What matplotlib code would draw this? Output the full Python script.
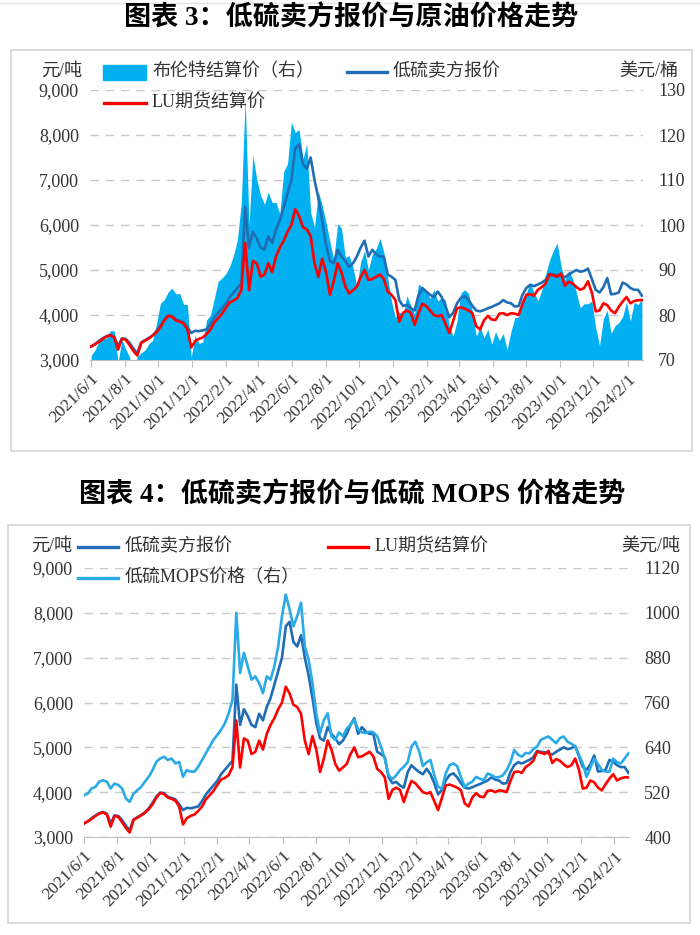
import numpy as np
import pandas as pd
import matplotlib
matplotlib.use('Agg')
import matplotlib.pyplot as plt
from matplotlib.lines import Line2D
from matplotlib.patches import Rectangle

plt.rcParams['font.family'] = ['Liberation Serif', 'Noto Sans CJK SC']

# weekly readings, 2021-06-01 .. 2024-02-27
dates = pd.date_range('2021-06-01', periods=144, freq='7D')

# 低硫卖方报价 (元/吨)
seller = [3300, 3350, 3420, 3480, 3530, 3560, 3520, 3300, 3480, 3470,
          3380, 3250, 3150, 3390, 3440, 3490, 3550, 3640, 3760, 3900,
          3990, 3980, 3900, 3870, 3840, 3730, 3600, 3650, 3640, 3660,
          3680, 3800, 3950, 4050, 4150, 4250, 4400, 4500, 4600, 4700,
          6400, 5500, 5850, 5700, 5500, 5450, 5750, 5600, 5900, 6100,
          6400, 6700, 7000, 7700, 7800, 7350, 7250, 7500, 7000, 6600,
          6100, 5550, 5200, 5150, 5450, 5300, 5200, 5070, 5150, 5300,
          5500, 5650, 5300, 5450, 5350, 5300, 5300, 4900, 4850, 4780,
          4330, 4200, 4230, 4150, 4100, 4440, 4600, 4520, 4450, 4400,
          4520, 4400, 4200, 3950, 4050, 4260, 4380, 4420, 4330, 4200,
          4100, 4080, 4110, 4150, 4180, 4220, 4260, 4330, 4280, 4260,
          4190, 4200, 4450, 4600, 4670, 4640, 4680, 4720, 4780, 4920,
          4900, 4890, 4870, 4840, 4900, 4950, 5000, 4960, 4980, 5030,
          4800, 4560, 4500, 4620, 4820, 4460, 4470, 4500, 4720, 4680,
          4600, 4560, 4560, 4430]

# LU期货结算价 (元/吨)
lu = [3300, 3350, 3400, 3470, 3520, 3550, 3500, 3230, 3470, 3450,
      3330, 3200, 3100, 3380, 3430, 3480, 3540, 3620, 3730, 3880,
      3980, 3960, 3880, 3850, 3810, 3680, 3280, 3420, 3470, 3500,
      3580, 3680, 3840, 3930, 4030, 4160, 4280, 4320, 4380, 4560,
      5600, 4550, 5200, 5150, 4850, 4900, 5150, 4950, 5300, 5500,
      5650, 5850, 6000, 6350, 6200, 5950, 5900, 5750, 5150, 4850,
      5250, 4950, 4450, 4750, 5150, 4950, 4630, 4480, 4550, 4630,
      4850, 5000, 4780, 4800, 4850, 4900, 4800, 4520, 4450, 4330,
      3850, 4050, 4100, 4050, 3780, 4040, 4250, 4200, 4100, 4000,
      3970, 4000, 3800, 3600, 3870, 4150, 4170, 4140, 4100, 4040,
      3750, 3680, 3880, 3980, 3900, 3890, 4030, 4040, 4000, 4040,
      4030, 4000, 4250, 4450, 4460, 4430, 4560, 4620, 4700, 4900,
      4880, 4850, 4920, 4650, 4740, 4700, 4620, 4560, 4600, 4750,
      4500, 4080, 4100, 4260, 4220, 4100, 4040, 4180, 4300, 4400,
      4260, 4310, 4330, 4330]

# 布伦特结算价 (美元/桶)
brent = [71.0, 72.2, 74.0, 74.8, 74.8, 76.5, 76.5, 69.5, 74.5, 72.4,
         70.6, 66.5, 70.8, 71.6, 72.2, 73.6, 74.4, 78.1, 82.6, 83.4,
         85.1, 86.0, 84.7, 84.8, 82.4, 82.3, 70.6, 75.4, 73.7, 74.0,
         78.9, 80.0, 83.7, 87.5, 88.2, 89.2, 90.8, 93.3, 96.8, 105.0,
         128.0, 99.9, 115.5, 110.2, 106.6, 104.6, 107.3, 105.0, 105.0, 102.5,
         111.9, 113.6, 122.8, 120.6, 121.2, 114.7, 118.0, 102.8, 99.5, 107.4,
         104.4, 100.5, 96.3, 92.3, 100.2, 99.3, 92.8, 93.2, 90.6, 86.3,
         91.8, 94.3, 90.0, 93.5, 94.7, 97.0, 93.9, 88.4, 83.0, 79.4,
         80.7, 80.0, 84.3, 82.1, 80.1, 86.9, 86.1, 85.5, 83.7, 85.6,
         83.1, 83.9, 83.3, 77.5, 75.3, 78.7, 84.9, 85.6, 84.8, 80.8,
         75.3, 77.4, 74.9, 76.8, 73.5, 76.3, 74.3, 75.9, 72.3, 76.3,
         79.4, 79.6, 83.6, 84.9, 87.2, 84.9, 83.2, 85.5, 89.0, 92.1,
         94.3, 96.0, 90.9, 87.7, 89.9, 88.1, 85.0, 81.6, 82.5, 82.5,
         83.1, 77.2, 73.2, 79.2, 81.1, 75.9, 77.6, 78.3, 79.6, 82.9,
         78.6, 82.8, 82.3, 83.6]

# 低硫MOPS价格 (美元/吨)
mops = [512, 516, 530, 534, 548, 552, 548, 530, 543, 539,
        530, 503, 494, 516, 525, 534, 548, 561, 579, 601,
        610, 615, 606, 610, 597, 601, 561, 579, 575, 575,
        588, 606, 624, 642, 660, 673, 687, 704, 731, 767,
        1000, 839, 893, 857, 821, 830, 812, 785, 830, 821,
        857, 910, 991, 1049, 1009, 964, 991, 1027, 910, 875,
        812, 731, 678, 713, 731, 669, 660, 680, 670, 690,
        700, 715, 688, 680, 678, 682, 680, 670, 642, 610,
        565, 555, 565, 579, 588, 600, 642, 655, 630, 590,
        600, 606, 565, 535, 528, 570, 592, 597, 590, 560,
        534, 543, 548, 561, 556, 552, 570, 566, 560, 560,
        565, 579, 600, 633, 620, 615, 625, 624, 635, 642,
        660, 665, 669, 660, 651, 665, 669, 655, 650, 642,
        620, 597, 561, 585, 610, 595, 579, 575, 575, 610,
        600, 597, 610, 624]

tick_dates = pd.date_range('2021-06-01', '2024-02-01', freq='2MS')
tick_labels = [f'{d.year}/{d.month}/{d.day}' for d in tick_dates]

C_FILL = '#00B0F0'
C_SELL = '#1F6DB5'
C_LU = '#FF0000'
C_MOPS = '#2AAAE6'
GRID = '#C8C8C8'
TXT = '#333333'

W, H = 700, 935
fig = plt.figure(figsize=(7, 9.35), dpi=100)


def fx(x):
    return x / W


def fy(y):
    return 1 - y / H


def style_axes(ax, ax2, grid_ax):
    for a in (ax, ax2):
        for s in a.spines.values():
            s.set_visible(False)
    ax.spines['bottom'].set_visible(True)
    ax.spines['bottom'].set_color('#BFBFBF')
    ax.set_xticks(tick_dates)
    ax.set_xticklabels(tick_labels, rotation=45, ha='right', rotation_mode='anchor')
    ax.tick_params(axis='x', length=5, color='#BFBFBF', labelsize=12.5, pad=3, labelcolor=TXT)
    ax.tick_params(axis='y', length=0, pad=8, labelsize=13, labelcolor=TXT)
    ax2.tick_params(axis='y', length=0, pad=11, labelsize=13, labelcolor=TXT)
    ax.set_ylim(3000, 9000)
    ax.set_yticks(range(3000, 9001, 1000))
    ax.set_yticklabels([f'{v:,}' for v in range(3000, 9001, 1000)])
    grid_ax.grid(axis='y', color=GRID, ls=(0, (6, 5)), lw=1)
    grid_ax.set_axisbelow(True)


def line_key(x0, x1, y, color):
    fig.add_artist(Line2D([fx(x0), fx(x1)], [fy(y), fy(y)], color=color, lw=2.4,
                          transform=fig.transFigure))


def key_text(x, y, s):
    fig.text(fx(x), fy(y), s, ha='left', va='center', fontsize=13, color=TXT)


# page separator and frames
fig.add_artist(Line2D([0, 1], [fy(3), fy(3)], color='#E4E4E4', lw=1, transform=fig.transFigure))
fig.add_artist(Rectangle((fx(11), fy(451)), (692 - 11) / W, (451 - 50) / H, fill=False,
                         ec='#D9D9D9', lw=1.3, transform=fig.transFigure))
fig.add_artist(Rectangle((fx(8), fy(923)), (690 - 8) / W, (923 - 525) / H, fill=False,
                         ec='#D9D9D9', lw=1.3, transform=fig.transFigure))

# ---------------- chart 3 ----------------
fig.text(fx(351), fy(18), '图表 3：低硫卖方报价与原油价格走势', ha='center', va='center',
         fontsize=19.5, fontweight='bold', color='black')

ax = fig.add_axes([fx(90), fy(360), (643 - 90) / W, 270 / H])
ax2 = ax.twinx()
ax2.fill_between(dates, brent, 70, color=C_FILL, lw=0)
ax.plot(dates, seller, color=C_SELL, lw=1.9)
ax.plot(dates, lu, color=C_LU, lw=1.9)
ax.set_zorder(ax2.get_zorder() + 1)
ax.patch.set_visible(False)
ax2.set_ylim(70, 130)
ax2.set_yticks(range(70, 131, 10))
style_axes(ax, ax2, ax2)
ax.set_xlim(pd.Timestamp('2021-05-30'), pd.Timestamp('2024-02-29'))

fig.text(fx(82), fy(71), '元/吨', ha='right', va='center', fontsize=13, color=TXT)
fig.text(fx(678), fy(71), '美元/桶', ha='right', va='center', fontsize=13, color=TXT)
fig.add_artist(Rectangle((fx(103), fy(80)), 43 / W, 15 / H, color=C_FILL, transform=fig.transFigure))
key_text(152, 72, '布伦特结算价（右）')
line_key(347, 387, 72, C_SELL)
key_text(393, 72, '低硫卖方报价')
line_key(104, 146, 103, C_LU)
key_text(152, 103, 'LU期货结算价')

# ---------------- chart 4 ----------------
fig.text(fx(352), fy(495), '图表 4：低硫卖方报价与低硫 MOPS 价格走势', ha='center', va='center',
         fontsize=19.5, fontweight='bold', color='black')

ax3 = fig.add_axes([fx(84), fy(837), 545 / W, 269 / H])
ax4 = ax3.twinx()
ax3.plot(dates, seller, color=C_SELL, lw=1.9)
ax3.plot(dates, lu, color=C_LU, lw=1.9)
ax4.plot(dates, mops, color=C_MOPS, lw=1.9)
ax4.set_ylim(400, 1120)
ax4.set_yticks(range(400, 1121, 120))
style_axes(ax3, ax4, ax3)
ax3.set_xlim(pd.Timestamp('2021-06-01'), pd.Timestamp('2024-02-28'))

fig.text(fx(72), fy(546), '元/吨', ha='right', va='center', fontsize=13, color=TXT)
fig.text(fx(680), fy(546), '美元/吨', ha='right', va='center', fontsize=13, color=TXT)
line_key(78, 118, 547, C_SELL)
key_text(125, 547, '低硫卖方报价')
line_key(328, 368, 547, C_LU)
key_text(375, 547, 'LU期货结算价')
line_key(78, 118, 578, C_MOPS)
key_text(125, 578, '低硫MOPS价格（右）')

fig.savefig('out.png', dpi=100)
